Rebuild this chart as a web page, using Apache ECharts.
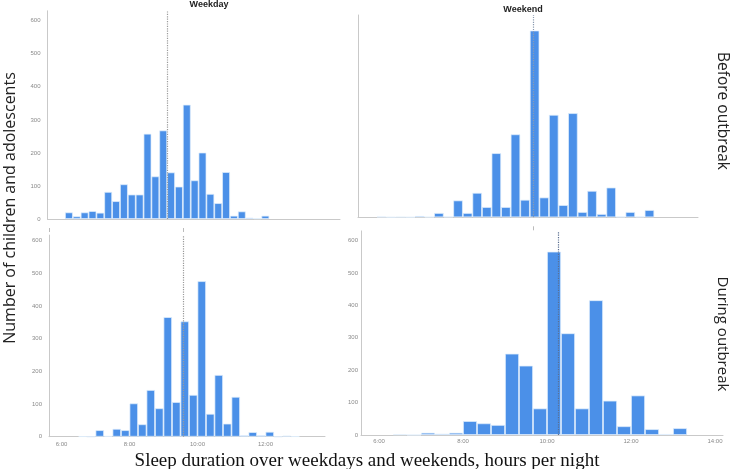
<!DOCTYPE html>
<html><head><meta charset="utf-8">
<script src="https://cdn.jsdelivr.net/npm/echarts@6/dist/echarts.min.js"></script>
<style>html,body{margin:0;padding:0;background:#fff}#c{width:733px;height:469px}</style>
</head><body><div id="c"></div>
<script>
// ---- Data: bin start times (h:mm) and counts per panel ----
const weekdayBeforeBins = ["6:00","6:12","6:24","6:36","6:48","7:00","7:12","7:24","7:36","7:48","8:00","8:12","8:24","8:36","8:48","9:00","9:12","9:24","9:36","9:48","10:00","10:12","10:24","10:36","10:48","11:00"];
const weekdayBeforeCounts = [20,8,20,24,19,82,54,105,74,74,258,129,268,141,98,346,117,201,76,48,142,10,23,4,2,10];
const weekdayBeforeMean = 8.6;

const weekendBeforeBins = ["6:00","6:15","6:30","6:45","7:00","7:15","7:30","7:45","8:00","8:15","8:30","8:45","9:00","9:15","9:30","9:45","10:00","10:15","10:30","10:45","11:00","11:15","11:30","11:45","12:00","12:15","12:30","12:45","13:00"];
const weekendBeforeCounts = [2,0,1,0,4,1,13,2,51,13,74,31,194,31,251,53,565,60,310,37,315,16,80,10,90,2,16,2,22];
const weekendBeforeMean = 10.083;

const weekdayDuringBins = ["6:30","6:45","7:00","7:15","7:30","7:45","8:00","8:15","8:30","8:45","9:00","9:15","9:30","9:45","10:00","10:15","10:30","10:45","11:00","11:15","11:30","11:45","12:00","12:15","12:30","12:45"];
const weekdayDuringCounts = [1,0,20,2,24,20,102,38,143,87,366,106,353,128,476,70,189,40,122,4,14,4,15,0,3,1];
const weekdayDuringMean = 9.574;

const weekendDuringBins = ["6:20","6:40","7:00","7:20","7:40","8:00","8:20","8:40","9:00","9:20","9:40","10:00","10:20","10:40","11:00","11:20","11:40","12:00","12:20","12:40","13:00"];
const weekendDuringCounts = [2,0,7,4,7,43,36,31,251,214,82,566,314,82,416,106,27,122,18,3,21];
const weekendDuringMean = 10.255;

const bottomTickHoursLeft = [6,8,10,12];
const bottomTickHoursRight = [6,8,10,12,14];

const panelTitles = ["Weekday","Weekend"];
const rowTitles = ["Before outbreak","During outbreak"];
const yTitle = "Number of children and adolescents";
const xTitle = "Sleep duration over weekdays and weekends, hours per night";

// ---- Layout ----
const toH = s => { const p = s.split(':'); return +p[0] + (+p[1]) / 60; };
const panels = [
  {bins: weekdayBeforeBins, counts: weekdayBeforeCounts, mean: weekdayBeforeMean, bw: 0.2,
   grid: {left: 47.5, top: 10.8, width: 292.5, height: 208.2}, xmin: 5.555, xmax: 13.0, ymax: 630,
   yLabels: true, xLabels: null, marks: [5.6, 9.0], meanColor: '#9a9a9a'},
  {bins: weekendBeforeBins, counts: weekendBeforeCounts, mean: weekendBeforeMean, bw: 0.25,
   grid: {left: 358, top: 15, width: 340, height: 202.3}, xmin: 5.5115, xmax: 14.393, ymax: 612,
   yLabels: false, xLabels: null, marks: [10.083], meanColor: '#8a9ab0'},
  {bins: weekdayDuringBins, counts: weekdayDuringCounts, mean: weekdayDuringMean, bw: 0.25,
   grid: {left: 49, top: 235.1, width: 276, height: 201.6}, xmin: 5.632, xmax: 13.75, ymax: 617,
   yLabels: true, xLabels: bottomTickHoursLeft, marks: null, meanColor: '#9a9a9a'},
  {bins: weekendDuringBins, counts: weekendDuringCounts, mean: weekendDuringMean, bw: 1/3,
   grid: {left: 361, top: 230.9, width: 362, height: 204.1}, xmin: 5.571, xmax: 14.19, ymax: 630,
   yLabels: true, xLabels: bottomTickHoursRight, marks: null, meanColor: '#5a6e90'}
];

const grid = [], xAxis = [], yAxis = [], series = [];
const axisGray = '#c9c9c9';
panels.forEach((p, i) => {
  grid.push(Object.assign({containLabel: false}, p.grid));
  const pxPerH = p.grid.width / (p.xmax - p.xmin);
  xAxis.push({
    type: 'value', gridIndex: i, min: p.xmin, max: p.xmax, position: 'bottom',
    axisLine: {show: true, lineStyle: {color: axisGray, width: 1}},
    axisTick: {show: false}, splitLine: {show: false},
    axisLabel: p.xLabels ? {show: true, customValues: p.xLabels, formatter: v => v + ':00',
      fontSize: 6, color: '#8a8a8a', margin: i === 2 ? 5 : 3, fontFamily: 'Liberation Sans'} : {show: false}
  });
  yAxis.push({
    type: 'value', gridIndex: i, min: 0, max: p.ymax, interval: 100,
    axisLine: {show: true, lineStyle: {color: axisGray, width: 1}},
    axisTick: {show: false}, splitLine: {show: false},
    axisLabel: p.yLabels ? {show: true, fontSize: 6, color: '#8a8a8a', margin: i === 3 ? 3 : 7,
      fontFamily: 'Liberation Sans', formatter: v => (v % 100 === 0 ? String(v) : '')} : {show: false}
  });
  series.push({
    type: 'bar', xAxisIndex: xAxis.length - 1, yAxisIndex: i,
    barWidth: p.bw * pxPerH,
    itemStyle: {color: '#4b90e8', borderColor: 'rgba(225,238,252,0.9)', borderWidth: 0.8},
    data: p.bins.map((b, k) => [toH(b) + p.bw / 2, p.counts[k]]),
    markLine: {
      silent: true, symbol: 'none', label: {show: false},
      lineStyle: {type: 'dotted', color: p.meanColor, width: 1.2},
      data: [{xAxis: p.mean}]
    }
  });
  if (p.marks) {
    xAxis.push({
      type: 'value', gridIndex: i, min: p.xmin, max: p.xmax, position: 'bottom', offset: 9,
      axisLine: {show: false}, splitLine: {show: false}, axisLabel: {show: false},
      axisTick: {show: true, customValues: p.marks, length: 4, lineStyle: {color: '#bbb'}}
    });
  }
});

const chart = echarts.init(document.getElementById('c'), null, {renderer: 'canvas'});
chart.setOption({
  animation: false,
  backgroundColor: '#fff',
  grid, xAxis, yAxis, series,
  graphic: [
    {type: 'text', x: 209, y: 5, style: {text: panelTitles[0], font: 'bold 9px "Liberation Sans"', fill: '#222', textAlign: 'center', textVerticalAlign: 'middle'}},
    {type: 'text', x: 523, y: 10, style: {text: panelTitles[1], font: '600 9px "Liberation Sans"', fill: '#222', textAlign: 'center', textVerticalAlign: 'middle'}},
    {type: 'text', x: 722, y: 111, rotation: -Math.PI / 2, style: {text: rowTitles[0], font: '15.5px "Open Sans"', fill: '#222', textAlign: 'center', textVerticalAlign: 'middle'}},
    {type: 'text', x: 722, y: 334, rotation: -Math.PI / 2, style: {text: rowTitles[1], font: '15px "Open Sans"', fill: '#222', textAlign: 'center', textVerticalAlign: 'middle'}},
    {type: 'text', x: 10, y: 208, rotation: Math.PI / 2, style: {text: yTitle, font: '16px "Open Sans"', fill: '#222', textAlign: 'center', textVerticalAlign: 'middle'}},
    {type: 'text', x: 367, y: 461, style: {text: xTitle, font: '19px "Liberation Serif"', fill: '#111', textAlign: 'center', textVerticalAlign: 'middle'}}
  ]
});
</script>
</body></html>
